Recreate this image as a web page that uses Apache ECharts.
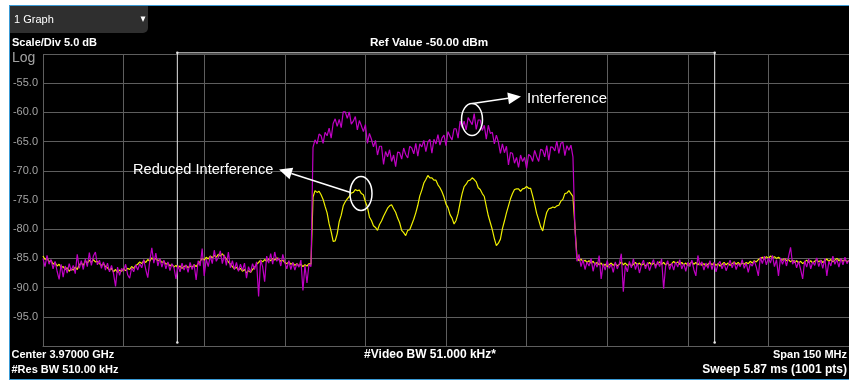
<!DOCTYPE html>
<html>
<head>
<meta charset="utf-8">
<title>Spectrum - 1 Graph</title>
<script src="https://cdn.jsdelivr.net/npm/echarts/dist/echarts.min.js"></script>
<style>
  html, body { margin: 0; padding: 0; background: #ffffff; }
  #frame {
    position: absolute; left: 9px; top: 5px; width: 850px; height: 373px;
    background: #000000;
    border-left: 1px solid #3a9bd6; border-top: 1px solid #3a9bd6; border-bottom: 1px solid #3a9bd6;
  }
  #chart { position: absolute; left: 0; top: 0; width: 849px; height: 382px; }
</style>
</head>
<body>
<div id="frame"></div>
<div id="chart"></div>
<script>
// Sweep settings: 150 MHz span around 3.97 GHz, traces read every 0.375 MHz
const spanMHz = 150;
const sweepStepMHz = 0.375;

// Reference-level grid: -100 ... -50 dBm, 5 dB per division
const yTicks = [-100, -95, -90, -85, -80, -75, -70, -65, -60, -55, -50];

// Channel band edges (MHz offset from centre)
const bandEdges = [-50, 50];

// Magenta trace (interference present), dBm
const magentaLowerSkirt = [
  -85.0, -86.4, -84.5, -86.0, -85.2, -86.8, -85.5, -87.2, -88.6, -86.0,
  -88.2, -86.3, -87.5, -85.9, -87.1, -86.2, -87.6, -84.3, -86.7, -85.4,
  -86.9, -85.1, -86.4, -84.0, -86.2, -84.6, -83.9, -86.1, -85.3, -86.7,
  -85.6, -87.0, -85.8, -87.3, -86.2, -87.6, -89.8, -86.5, -87.9, -86.7,
  -87.2, -86.0, -87.8, -88.4, -86.6, -87.3, -86.1, -87.0, -85.9, -86.6,
  -85.2, -86.9, -88.3, -85.4, -83.2, -85.8, -84.1, -86.3, -85.0, -86.5,
  -85.3, -86.8, -85.6, -87.1, -85.9, -86.6, -88.5, -86.2, -87.3, -85.8,
  -87.0, -86.1, -87.4, -85.7, -86.9, -86.0, -88.7, -85.4, -86.3, -83.3,
  -88.0, -85.1, -86.4, -84.6, -85.9, -83.6, -85.5, -84.8, -83.7, -85.9,
  -84.4, -86.2, -83.9, -86.6, -85.4, -86.9, -85.7, -87.2, -86.0, -87.1,
  -85.8, -88.4, -86.4, -87.4, -85.9, -86.9, -85.6, -91.5, -85.3, -86.4,
  -89.0, -84.6, -85.8, -84.2, -86.0, -83.9, -85.5, -84.9, -86.3, -84.3,
  -85.7, -86.8, -85.4, -86.9, -85.7, -87.0, -85.9, -86.5, -85.3, -90.5,
  -86.2, -89.2, -86.0, -86.4
];
const magentaChannel = [
  -66.0, -64.7, -65.4, -63.7, -64.0, -65.3, -63.4, -64.0, -62.7, -64.4,
  -61.9, -61.1, -62.4, -61.2, -62.6, -59.9, -59.9, -61.0, -59.9, -62.0,
  -61.5, -60.7, -63.0, -61.4, -62.3, -63.3, -62.1, -65.3, -63.6, -64.6,
  -65.9, -64.8, -67.3, -65.8, -65.8, -68.9, -66.7, -67.6, -66.4, -68.4,
  -67.3, -69.3, -66.8, -66.9, -68.0, -66.1, -67.2, -67.8, -65.8, -66.1,
  -67.1, -65.3, -67.5, -65.4, -65.9, -64.8, -66.7, -65.1, -64.6, -67.0,
  -64.6, -65.4, -63.8, -65.6, -64.4, -63.9, -65.7, -63.3, -64.1, -64.7,
  -62.8, -62.8, -64.4, -61.5, -62.6, -61.5, -63.0, -60.9, -61.5, -62.1,
  -60.2, -62.9, -61.3, -61.3, -63.1, -62.2, -64.6, -62.2, -63.6, -63.4,
  -65.4, -63.9, -65.1, -67.0, -65.4, -66.9, -65.8, -69.0, -66.9, -67.0,
  -68.7, -67.7, -69.4, -67.3, -68.4, -67.7, -69.6, -67.2, -67.5, -68.4,
  -66.5, -67.6, -68.4, -66.3, -66.5, -67.6, -65.7, -68.2, -65.9, -66.0,
  -66.6, -64.9, -67.0, -65.3, -65.1, -67.4, -65.7, -66.5, -65.6, -67.6
];
const magentaUpperSkirt = [
  -80.0, -85.5, -84.3, -86.4, -85.2, -86.9, -85.6, -86.3, -85.0, -87.2,
  -85.7, -86.5, -84.5, -88.5, -85.9, -87.0, -85.4, -86.7, -86.0, -87.4,
  -85.6, -86.8, -85.9, -84.2, -90.7, -86.2, -87.3, -85.5, -86.6, -85.1,
  -86.9, -85.8, -87.5, -86.1, -85.3, -86.8, -85.7, -87.1, -86.0, -85.2,
  -86.7, -85.5, -86.4, -85.1, -90.2, -86.3, -85.4, -86.9, -85.8, -87.0,
  -85.6, -86.5, -85.2, -86.8, -85.9, -87.2, -85.7, -86.4, -85.3, -86.9,
  -88.0, -84.5, -86.2, -85.6, -87.0, -85.8, -86.7, -85.4, -86.9, -85.7,
  -87.3, -86.0, -85.5, -86.8, -85.8, -87.1, -86.2, -85.3, -86.6, -85.6,
  -86.9, -85.9, -86.4, -85.2, -86.7, -85.8, -87.4, -85.9, -86.3, -85.4,
  -86.5, -88.0, -84.8, -85.9, -84.6, -86.1, -84.9, -85.8, -84.5, -86.4,
  -85.2, -88.0, -84.9, -86.0, -85.0, -86.3, -84.7, -83.1, -86.0, -85.3,
  -86.6, -85.5, -86.9, -88.5, -85.4, -86.5, -85.1, -86.8, -85.6, -86.2,
  -84.9, -86.4, -85.3, -86.7, -85.0, -88.0, -85.5, -86.3, -84.6, -86.0,
  -85.2, -86.5, -85.0, -86.1, -84.8, -85.9, -85.3
];

// Yellow trace (interference reduced), dBm
const yellowLowerSkirt = [
  -84.6, -85.2, -84.9, -85.6, -85.3, -86.0, -85.7, -86.3, -86.0, -86.6,
  -86.4, -86.9, -86.6, -87.2, -86.8, -87.0, -86.5, -86.9, -86.1, -85.8,
  -86.2, -85.4, -85.8, -85.3, -85.7, -85.2, -85.6, -85.5, -85.9, -86.2,
  -85.9, -86.4, -86.6, -87.0, -86.7, -87.3, -86.9, -87.4, -87.0, -87.2,
  -86.8, -87.1, -86.7, -86.9, -86.4, -86.7, -86.2, -86.0, -85.6, -85.9,
  -85.4, -85.7, -85.2, -85.5, -84.9, -85.3, -85.0, -85.4, -85.2, -85.7,
  -85.5, -86.0, -85.8, -86.3, -86.0, -86.5, -86.2, -86.6, -86.3, -86.7,
  -86.4, -86.2, -86.6, -86.3, -86.5, -86.1, -86.4, -85.9, -85.5, -85.0,
  -85.3, -84.8, -85.1, -84.6, -84.9, -84.5, -84.8, -84.3, -84.6, -84.2,
  -84.7, -85.1, -85.6, -86.0, -86.4, -86.8, -86.5, -87.0, -86.7, -87.2,
  -86.9, -87.5, -87.1, -87.4, -86.9, -86.5, -86.0, -85.7, -85.3, -85.6,
  -85.2, -85.5, -85.1, -85.4, -85.0, -85.3, -84.9, -85.2, -85.5, -85.3,
  -85.7, -85.9, -85.6, -86.0, -85.8, -86.2, -85.9, -86.3, -86.0, -86.4,
  -86.1, -86.3, -85.9, -86.0
];
const yellowChannel = [
  -74.5, -73.4, -73.7, -73.5, -74.1, -74.9, -76.1, -77.2, -79.1, -80.4,
  -82.1, -82.0, -80.8, -78.7, -77.6, -76.0, -75.3, -74.8, -74.4, -73.8,
  -73.7, -73.2, -73.4, -73.3, -73.9, -74.1, -75.3, -76.2, -77.9, -78.5,
  -79.4, -79.7, -80.2, -79.2, -78.6, -77.8, -77.1, -76.4, -76.0, -75.8,
  -76.5, -77.1, -78.1, -78.9, -80.2, -80.6, -81.1, -80.2, -80.1, -79.2,
  -78.3, -77.2, -75.9, -74.3, -73.3, -72.1, -71.5, -70.8, -71.2, -71.2,
  -71.6, -71.6, -72.4, -72.9, -73.6, -74.5, -75.7, -76.3, -77.5, -78.1,
  -79.1, -78.5, -77.3, -75.5, -73.9, -72.7, -72.3, -71.7, -71.6, -71.2,
  -71.5, -71.9, -72.9, -73.2, -73.9, -74.4, -76.1, -77.7, -78.9, -80.1,
  -81.6, -82.8, -82.4, -81.7, -79.9, -78.6, -77.2, -76.0, -74.8, -73.9,
  -73.2, -73.1, -73.1, -73.5, -73.1, -73.0, -72.7, -73.0, -73.0, -74.3,
  -75.7, -77.3, -78.4, -79.6, -80.3, -78.5, -77.1, -76.5, -76.4, -76.2,
  -76.3, -76.0, -75.9, -75.2, -74.9, -73.9, -73.8, -73.4, -73.9, -74.4
];
const yellowUpperSkirt = [
  -79.6, -84.8, -85.4, -85.1, -85.6, -85.3, -85.7, -85.4, -85.8, -85.5,
  -86.0, -85.7, -86.1, -85.8, -86.3, -86.0, -86.4, -86.1, -85.8, -86.2,
  -85.9, -86.3, -86.0, -85.6, -86.1, -85.8, -86.2, -85.9, -86.3, -86.0,
  -85.7, -86.1, -85.8, -86.2, -85.9, -86.3, -86.0, -85.7, -86.1, -85.8,
  -86.2, -85.9, -85.6, -86.0, -85.7, -86.1, -85.8, -86.2, -85.9, -85.5,
  -85.9, -85.6, -86.0, -85.7, -86.1, -85.8, -86.2, -85.9, -85.6, -86.0,
  -85.7, -86.1, -85.8, -86.2, -85.9, -86.3, -86.0, -85.7, -86.1, -85.8,
  -86.2, -85.9, -86.3, -86.0, -85.7, -86.1, -85.8, -86.2, -85.9, -85.6,
  -86.0, -85.7, -86.1, -85.8, -86.0, -85.7, -85.9, -85.5, -85.8, -85.4,
  -85.6, -85.2, -85.0, -84.8, -85.1, -84.7, -85.0, -84.6, -84.9, -84.7,
  -85.0, -84.8, -85.1, -85.3, -85.0, -85.4, -85.2, -85.6, -85.3, -85.7,
  -85.4, -85.8, -85.5, -85.9, -85.6, -85.3, -85.7, -85.4, -85.8, -85.5,
  -85.2, -85.6, -85.3, -85.7, -85.4, -85.1, -85.5, -85.2, -85.6, -85.3,
  -85.0, -85.4, -85.1, -85.5, -85.2, -85.6, -85.3
];

const magentaTrace = magentaLowerSkirt.concat(magentaChannel, magentaUpperSkirt);
const yellowTrace = yellowLowerSkirt.concat(yellowChannel, yellowUpperSkirt);

// Pair each reading with its frequency offset from the centre
function toPoints(trace) {
  return trace.map((v, i) => [-spanMHz / 2 + i * sweepStepMHz, v]);
}

const GRID_COLOR = '#5e5e5e';
const FAMILY = '"Liberation Sans", Arial, sans-serif';
const BOLD = 'bold 11px ' + FAMILY;

function label(text, x, y, font, align, fill) {
  return {
    type: 'text', x: x, y: y, z: 20,
    style: { text: text, font: font, fill: fill || '#ffffff', textAlign: align || 'left', textVerticalAlign: 'middle' }
  };
}

// Straight callout arrow with a filled head at (x2, y2)
function arrow(x1, y1, x2, y2, len, half) {
  const dx = x2 - x1, dy = y2 - y1, L = Math.hypot(dx, dy);
  const ux = dx / L, uy = dy / L;
  const bx = x2 - ux * len, by = y2 - uy * len;
  return [
    { type: 'line', z: 20, shape: { x1: x1, y1: y1, x2: bx, y2: by }, style: { stroke: '#ffffff', lineWidth: 1.5 } },
    { type: 'polygon', z: 20, shape: { points: [[x2, y2], [bx - uy * half, by + ux * half], [bx + uy * half, by - ux * half]] }, style: { fill: '#ffffff' } }
  ];
}

const chart = echarts.init(document.getElementById('chart'));

chart.setOption({
  backgroundColor: 'transparent',
  animation: false,
  grid: { left: 43, right: 0, top: 54, bottom: 36, containLabel: false },
  xAxis: {
    type: 'value', min: -spanMHz / 2, max: spanMHz / 2, interval: 15,
    axisLine: { show: true, lineStyle: { color: GRID_COLOR, width: 1 } },
    axisTick: { show: false },
    axisLabel: { show: false },
    splitLine: { show: true, lineStyle: { color: GRID_COLOR, width: 1 } }
  },
  yAxis: {
    type: 'value', min: yTicks[0], max: yTicks[yTicks.length - 1], interval: 5,
    axisLine: { show: true, lineStyle: { color: GRID_COLOR, width: 1 } },
    axisTick: { show: false },
    axisLabel: {
      color: '#a3a3a3', fontSize: 11, fontFamily: FAMILY, margin: 5,
      formatter: function (v) {
        return (v === yTicks[0] || v === yTicks[yTicks.length - 1]) ? '' : v.toFixed(1);
      }
    },
    splitLine: { show: true, lineStyle: { color: GRID_COLOR, width: 1 } }
  },
  series: [
    {
      name: 'Band edges', type: 'line', clip: false, z: 3,
      data: [[bandEdges[0], -99.4], [bandEdges[0], -49.8], [bandEdges[1], -49.8], [bandEdges[1], -99.4]],
      symbol: 'circle', symbolSize: 2.5, showSymbol: true,
      itemStyle: { color: '#e6e6e6' },
      lineStyle: { color: '#e6e6e6', width: 1 },
      silent: true
    },
    {
      name: 'Reduced Interference', type: 'line', z: 4,
      data: toPoints(yellowTrace),
      showSymbol: false,
      lineStyle: { color: '#f0f000', width: 1.2 }
    },
    {
      name: 'Interference', type: 'line', z: 5,
      data: toPoints(magentaTrace),
      showSymbol: false,
      lineStyle: { color: '#c000c4', width: 1.2 }
    }
  ],
  graphic: [
    // Display tab
    { type: 'rect', z: 10, shape: { x: 10, y: 6, width: 138, height: 27, r: [0, 0, 5, 0] }, style: { fill: '#2f2f2f' } },
    label('1 Graph', 14, 20, '11px ' + FAMILY),
    { type: 'polygon', z: 20, shape: { points: [[140.5, 16.5], [145.5, 16.5], [143, 22]] }, style: { fill: '#ffffff' } },

    label('Scale/Div 5.0 dB', 12, 43, BOLD),
    label('Log', 12, 58, '14px ' + FAMILY, 'left', '#a3a3a3'),
    label('Ref Value -50.00 dBm', 429, 42.5, 'bold 11.7px ' + FAMILY, 'center'),

    label('Center 3.97000 GHz', 11.5, 354.5, BOLD),
    label('#Res BW 510.00 kHz', 11.5, 369.5, BOLD),
    label('#Video BW 51.000 kHz*', 430, 354.5, 'bold 12px ' + FAMILY, 'center'),
    label('Span 150 MHz', 847, 354.5, BOLD, 'right'),
    label('Sweep 5.87 ms (1001 pts)', 847, 369.5, 'bold 12px ' + FAMILY, 'right'),

    // Callouts
    { type: 'ellipse', z: 20, shape: { cx: 472, cy: 119.5, rx: 10.5, ry: 16 }, style: { fill: 'none', stroke: '#ffffff', lineWidth: 1.5 } },
    { type: 'ellipse', z: 20, shape: { cx: 361, cy: 193.5, rx: 11, ry: 17 }, style: { fill: 'none', stroke: '#ffffff', lineWidth: 1.5 } }
  ]
    .concat(arrow(472.5, 103.5, 521, 96.5, 13, 6))
    .concat(arrow(350.5, 192.5, 279, 169.5, 13, 6))
    .concat([
      label('Interference', 527, 98.5, '15px ' + FAMILY),
      label('Reduced Interference', 133, 169.5, '14.6px ' + FAMILY)
    ])
});
</script>
</body>
</html>
